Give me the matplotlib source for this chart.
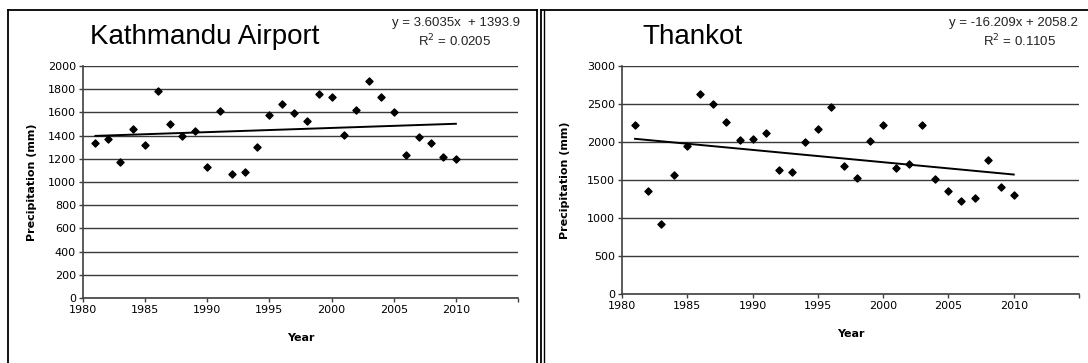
import numpy as np
import matplotlib
matplotlib.use("Agg")
import matplotlib.pyplot as plt
from matplotlib.lines import Line2D

years = list(range(1981, 2011))

ktm_precip = [1340, 1370, 1170, 1455, 1320, 1785, 1500, 1400, 1440, 1130,
              1615, 1065, 1090, 1305, 1575, 1675, 1595, 1525, 1760, 1735,
              1405, 1620, 1870, 1735, 1605, 1230, 1385, 1340, 1215, 1200]

thk_precip = [2220, 1355, 925, 1565, 1950, 2635, 2500, 2265, 2020, 2040,
              2125, 1630, 1600, 2005, 2165, 2465, 1680, 1525, 2015, 2230,
              1655, 1705, 2220, 1510, 1355, 1220, 1265, 1765, 1410, 1305]

# trend lines as printed on the chart (x = 1, 2, ... from 1981)
ktm_fit = (3.6035, 1393.9)
thk_fit = (-16.209, 2058.2)

x_ticks = [1980, 1985, 1990, 1995, 2000, 2005, 2010]

W, H = 1088, 363
fig = plt.figure(figsize=(W / 100, H / 100), dpi=100)
fig.patch.set_facecolor("white")


def px(x0, y0, x1, y1):
    return [x0 / W, 1 - y1 / H, (x1 - x0) / W, (y1 - y0) / H]


def panel(ax, values, fit, ymax, ystep, title, title_x, eq, eq_x, eq_ha, r2, r2_x, ypad):
    t = np.arange(1, len(years) + 1)
    trend = fit[0] * t + fit[1]
    ax.plot(years, trend, color="black", lw=1.4, zorder=3)
    ax.scatter(years, values, marker="D", s=13, color="black", zorder=4)

    ax.set_xlim(1980, 2015)
    ax.set_ylim(0, ymax)
    ax.set_xticks(x_ticks + [2015])
    ax.set_xticklabels([str(y) for y in x_ticks] + [""])
    ax.set_yticks(np.arange(0, ymax + 1, ystep))
    ax.yaxis.grid(True, color="#3a3a3a", lw=1.0)
    ax.set_axisbelow(True)
    for s in ["top", "right"]:
        ax.spines[s].set_visible(False)
    for s in ["left", "bottom"]:
        ax.spines[s].set_color("#404040")
        ax.spines[s].set_linewidth(1.2)
    ax.tick_params(axis="both", direction="out", length=3, width=1,
                   color="#404040", labelsize=8, pad=2)
    ax.set_xlabel("Year", fontsize=8, fontweight="bold", labelpad=13)
    ax.set_ylabel("Precipitation (mm)", fontsize=8, fontweight="bold", labelpad=ypad)

    fig.text(title_x / W, 1 - 37 / H, title, fontsize=20, ha="center", va="center",
             family="Liberation Sans")
    fig.text(eq_x / W, 1 - 23 / H, eq, fontsize=9.5, ha=eq_ha, va="center",
             family="Liberation Sans", color="#222222")
    fig.text(r2_x / W, 1 - 41 / H, r2, fontsize=9.5, ha="center", va="center",
             family="Liberation Sans", color="#222222")


ax1 = fig.add_axes(px(83, 66, 518, 298))
panel(ax1, ktm_precip, ktm_fit, 2000, 200, "Kathmandu Airport", 205,
      "y = 3.6035x  + 1393.9", 520, "right", "R$^2$ = 0.0205", 455, 8)

ax2 = fig.add_axes(px(622, 66, 1079, 294))
panel(ax2, thk_precip, thk_fit, 3000, 500, "Thankot", 692,
      "y = -16.209x + 2058.2", 949, "left", "R$^2$ = 0.1105", 1020, 12)

# panel frames
lc = "black"
fig.add_artist(Line2D([8 / W, 8 / W], [0, 1 - 10 / H], color=lc, lw=1.3))
fig.add_artist(Line2D([8 / W, 537 / W], [1 - 10 / H, 1 - 10 / H], color=lc, lw=1.3))
fig.add_artist(Line2D([537 / W, 537 / W], [0, 1 - 10 / H], color=lc, lw=1.3))
fig.add_artist(Line2D([541 / W, 541 / W], [0, 1 - 10 / H], color=lc, lw=1.3))
fig.add_artist(Line2D([543.5 / W, 543.5 / W], [0, 1 - 10 / H], color=lc, lw=1.0))
fig.add_artist(Line2D([541 / W, 1], [1 - 10 / H, 1 - 10 / H], color=lc, lw=1.3))

fig.savefig("out.png", dpi=100)
